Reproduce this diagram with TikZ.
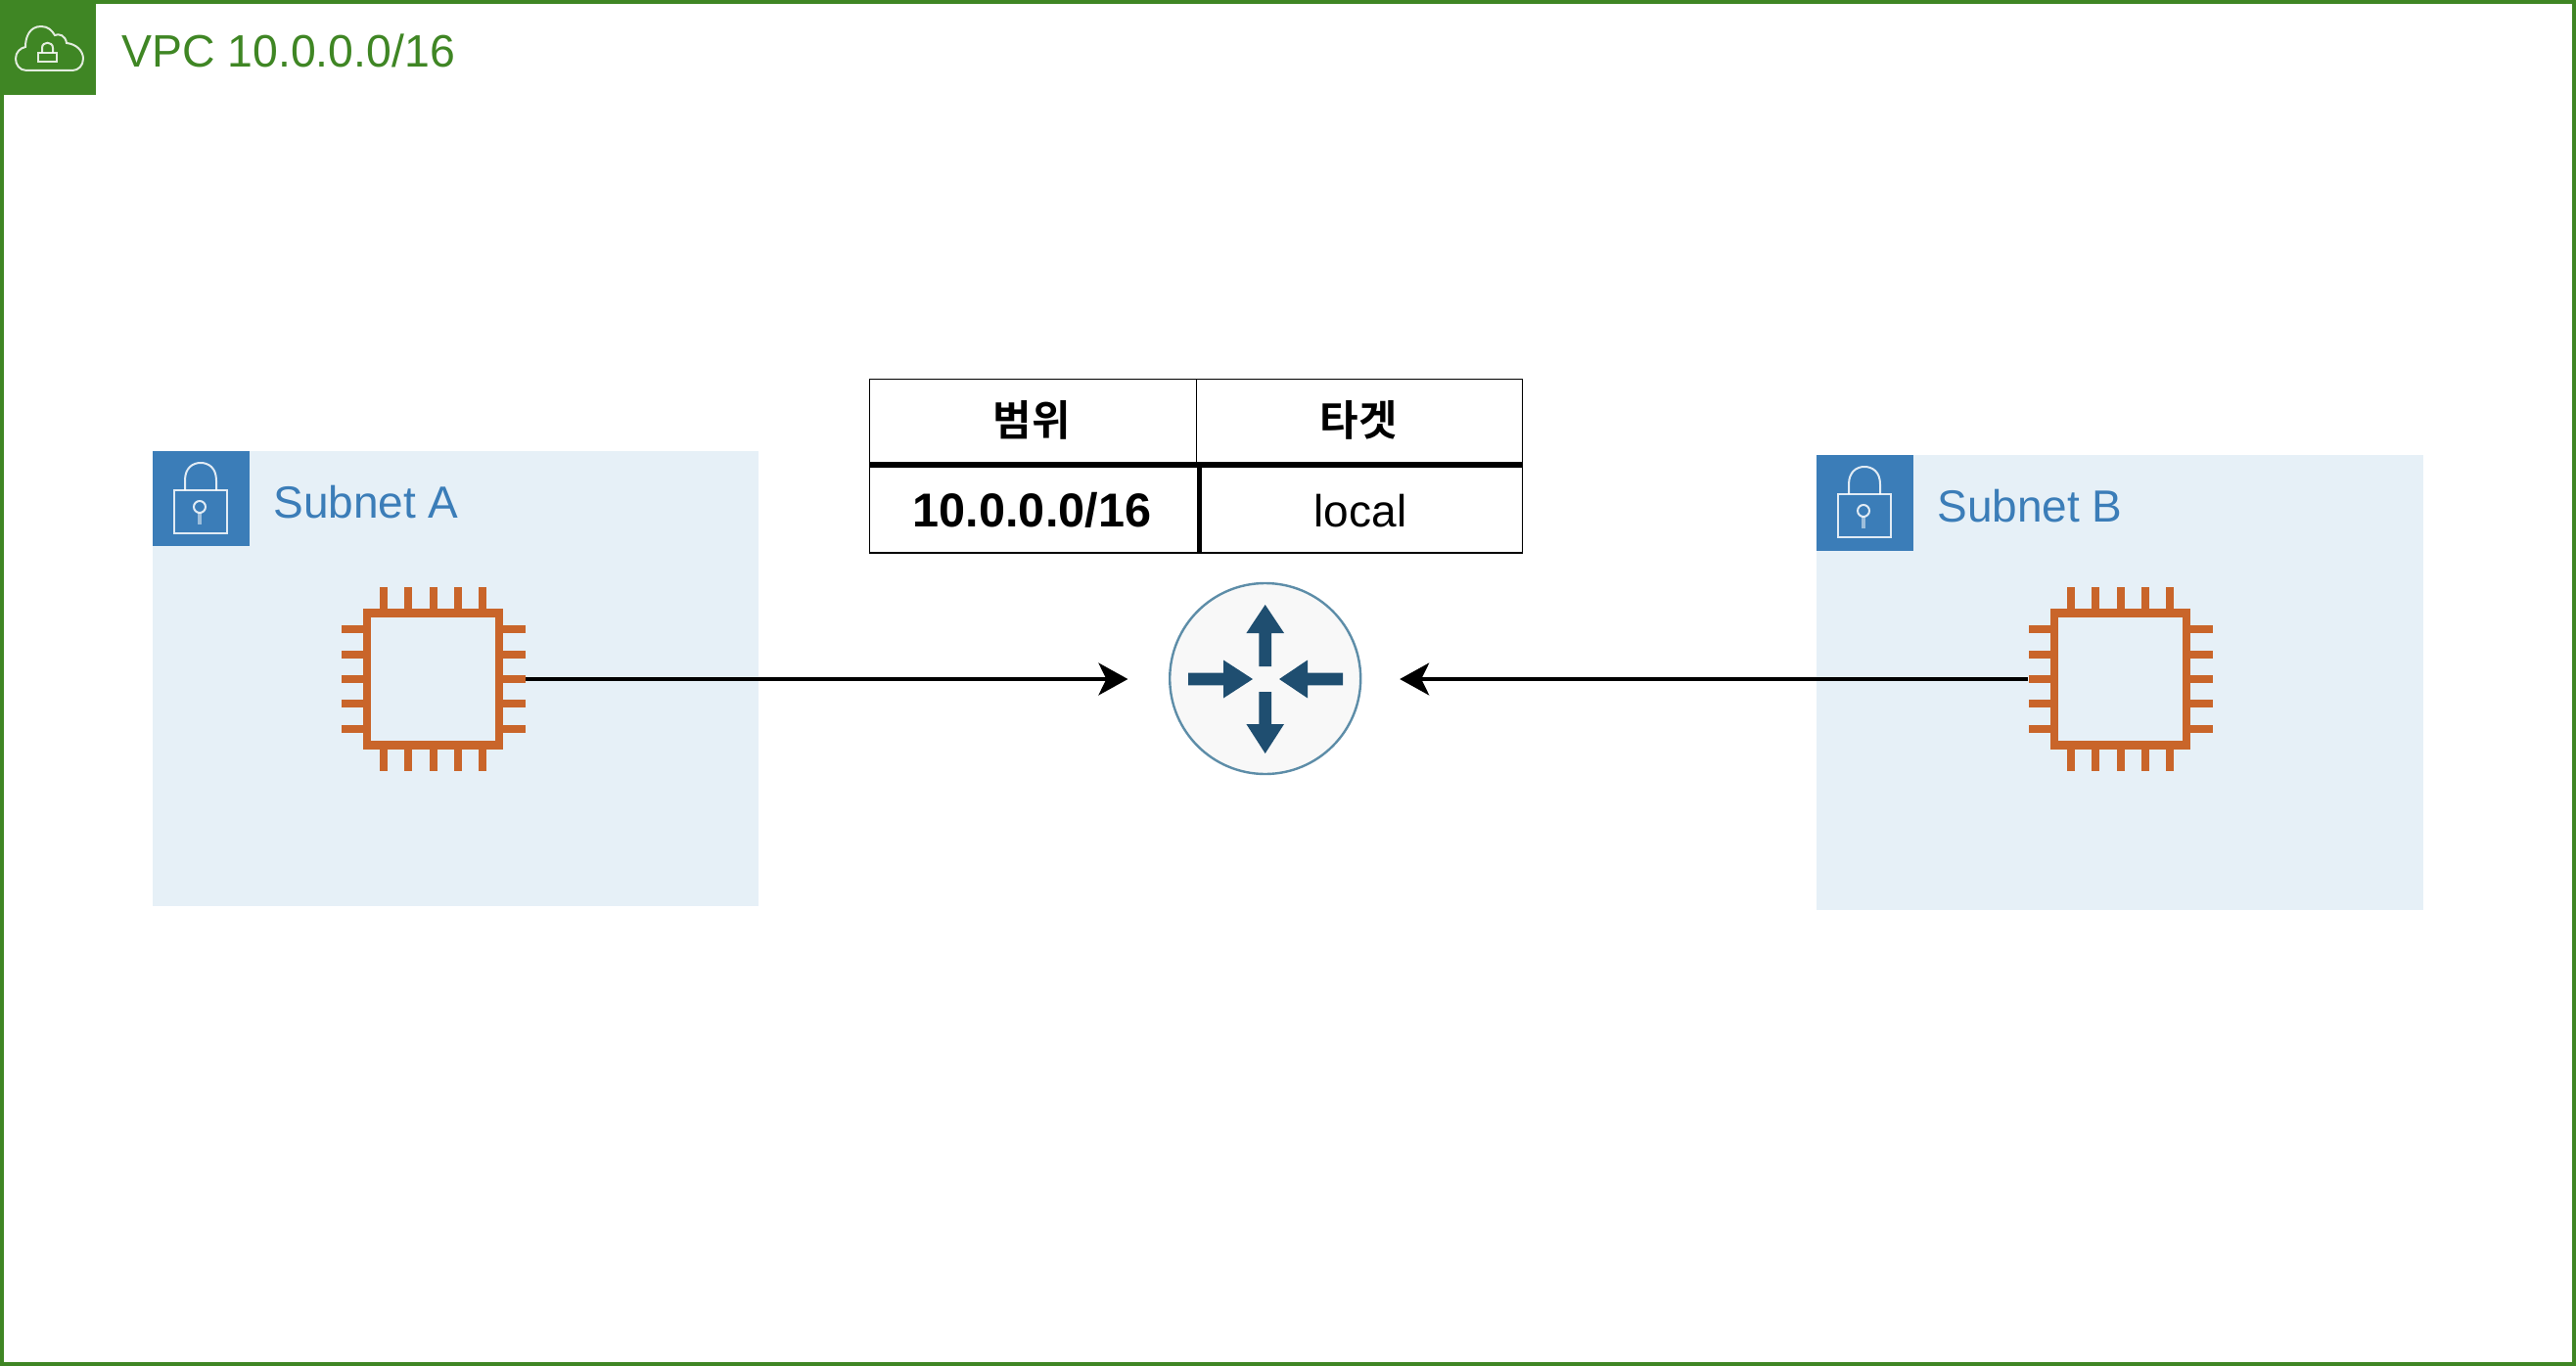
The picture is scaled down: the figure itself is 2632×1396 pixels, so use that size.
\documentclass[tikz,border=0pt]{standalone}
\usepackage{fontspec}
\usetikzlibrary{arrows.meta}
\setmainfont{Liberation Sans}
\newfontfamily\krfont{Noto Sans CJK KR}[BoldFont={Noto Sans CJK KR Bold}]
\definecolor{vpcgreen}{HTML}{3F8624}
\definecolor{subblue}{HTML}{3B7DB8}
\definecolor{subfill}{HTML}{E6F0F7}
\definecolor{chiporange}{HTML}{C9652A}
\definecolor{routerdark}{HTML}{1F4E70}
\definecolor{routerring}{HTML}{5D8DA8}
\definecolor{routerfill}{HTML}{F8F8F8}
\tikzset{
  bignote/.style={font=\fontsize{23.2}{27}\selectfont, inner sep=0pt, anchor=base west},
  subnote/.style={font=\fontsize{23}{27}\selectfont, inner sep=0pt, anchor=base west},
  subnetarea/.style={fill=subfill, draw=none},
  subnettab/.style={fill=subblue, draw=none},
  lockline/.style={draw=white, draw opacity=.85, line width=1pt, fill=none},
  chipframe/.style={draw=chiporange, line width=4.4pt, fill=none},
  chippin/.style={draw=chiporange, line width=4pt},
  chipzone/.style={minimum size=94.5pt, inner sep=0pt, outer sep=0pt, draw=none, fill=none},
  routernode/.style={circle, minimum size=97.5pt, inner sep=0pt, outer sep=0pt, fill=routerfill, draw=routerring, line width=1.2pt},
  routerarrow/.style={fill=routerdark, draw=none},
  flow/.style={draw=black, line width=1.75pt, -{Stealth[length=15pt,width=16.5pt,inset=4pt]}},
  tablecell/.style={inner sep=0pt, anchor=base, font=\fontsize{23}{27}\selectfont},
  korcell/.style={inner sep=0pt, anchor=center, font=\krfont\bfseries\fontsize{21.5}{25}\selectfont},
  thinrule/.style={draw=black, line width=0.85pt},
  thickrule/.style={draw=black, line width=2.6pt},
  chip/.pic={
    \draw[chipframe] (-67.5,-67.5) rectangle (67.5,67.5);
    \foreach \d in {-50.6,-25.3,0,25.3,50.6}{
      \draw[chippin] (\d,-71) -- (\d,-94);
      \draw[chippin] (\d,71) -- (\d,94);
      \draw[chippin] (-71,\d) -- (-94,\d);
      \draw[chippin] (71,\d) -- (94,\d);
    }
  },
  padlock/.pic={
    \draw[lockline] (23,40) rectangle (77,84);
    \draw[lockline] (34,40) -- (34,30) .. controls (34,17) and (42,12) .. (50,12) .. controls (58,12) and (66,17) .. (66,30) -- (66,40);
    \draw[lockline] (49,57) circle (6);
    \draw[lockline, line width=2pt, draw opacity=.5] (49,63) -- (49,75);
  }
}
\begin{document}
\begin{tikzpicture}[x=0.5pt,y=-0.5pt]
\useasboundingbox (0,0) rectangle (2632,1396);
% VPC
\draw[draw=vpcgreen, line width=2pt, fill=white] (2,2) rectangle (2630,1394);
\fill[vpcgreen] (0,0) rectangle (98,97);
\draw[draw=white, draw opacity=.85, line width=1pt] (27,72) .. controls (20,72) and (16,66) .. (16,60) .. controls (16,53) and (21,49) .. (26,48) .. controls (26,38) and (30,27) .. (42,27) .. controls (49,27) and (53,31) .. (56,36) .. controls (60,34) and (67,36) .. (68,44) .. controls (78,45) and (85,52) .. (85,60) .. controls (85,67) and (80,72) .. (74,72) -- cycle;
\draw[draw=white, draw opacity=.85, line width=1pt] (39,54) rectangle (58,63);
\draw[draw=white, draw opacity=.85, line width=1pt] (43,54) -- (43,49) .. controls (43,42) and (54,42) .. (54,49) -- (54,54);
\node[bignote, text=vpcgreen] (vpclabel) at (124,69) {VPC 10.0.0.0/16};
% Subnet A
\fill[subnetarea] (156,461) rectangle (775,926);
\fill[subnettab] (156,461) rectangle (255,558);
\pic at (155,461) {padlock};
\node[subnote, text=subblue] (subnetAlabel) at (279,529) {Subnet A};
% Subnet B
\fill[subnetarea] (1856,465) rectangle (2476,930);
\fill[subnettab] (1856,465) rectangle (1955,563);
\pic at (1855,465) {padlock};
\node[subnote, text=subblue] (subnetBlabel) at (1979,533) {Subnet B};
% Chips
\node[chipzone] (chipA) at (442.5,694) {};
\pic at (442.5,694) {chip};
\node[chipzone] (chipB) at (2166.5,694) {};
\pic at (2166.5,694) {chip};
% Table
\draw[thinrule] (888.5,387.5) rectangle (1555.5,565);
\draw[thinrule] (1222.5,387.5) -- (1222.5,475);
\draw[thickrule] (1225.5,475) -- (1225.5,565);
\draw[thickrule] (888.5,475) -- (1555.5,475);
\node[korcell] (headrange) at (1054,429.5) {범위};
\node[korcell] (headtarget) at (1388,429.5) {타겟};
\node[tablecell, font=\fontsize{24.3}{28}\selectfont\bfseries] (cellrange) at (1054.5,538) {10.0.0.0/16};
\node[tablecell] (celltarget) at (1390,538) {local};
% Router
\node[routernode] (router) at (1292.7,693.5) {};
\fill[routerarrow] (1292.7,618) -- (1312,647) -- (1299,647) -- (1299,681) -- (1286.4,681) -- (1286.4,647) -- (1273.4,647) -- cycle;
\fill[routerarrow] (1292.7,770) -- (1312,740) -- (1299,740) -- (1299,707) -- (1286.4,707) -- (1286.4,740) -- (1273.4,740) -- cycle;
\fill[routerarrow] (1280,694) -- (1250,674.5) -- (1250,687.7) -- (1214,687.7) -- (1214,700.3) -- (1250,700.3) -- (1250,713.5) -- cycle;
\fill[routerarrow] (1307,694) -- (1336,674.5) -- (1336,687.7) -- (1372,687.7) -- (1372,700.3) -- (1336,700.3) -- (1336,713.5) -- cycle;
% Connectors
\draw[flow, shorten >=21.4pt] (chipA.east) -- (chipA.east -| router.west);
\draw[flow, shorten >=20pt] (chipB.west) -- (chipB.west -| router.east);
\end{tikzpicture}
\end{document}
